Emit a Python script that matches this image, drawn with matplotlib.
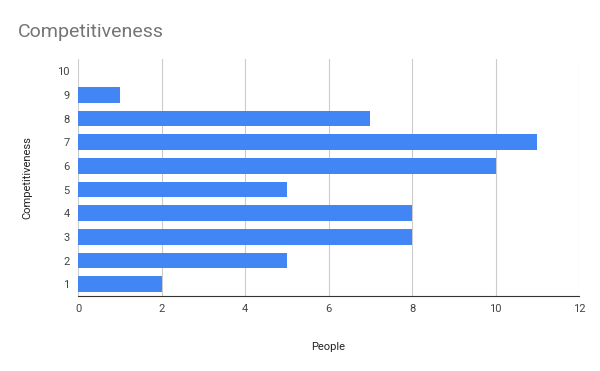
import matplotlib
matplotlib.use("Agg")
import matplotlib.pyplot as plt

plt.rcParams['font.family'] = ['Roboto', 'DejaVu Sans']

levels = [1, 2, 3, 4, 5, 6, 7, 8, 9, 10]
people = [2, 5, 8, 8, 5, 10, 11, 7, 1, 0]
xticks = [0, 2, 4, 6, 8, 10, 12]

fig = plt.figure(figsize=(6, 3.71), dpi=100)
ax = fig.add_axes([0.13, 0.202, 0.835, 0.638])

ax.barh(levels, people, height=0.66, color='#4285F4', zorder=3)

ax.set_xlim(0, 12)
ax.set_ylim(0.5, 10.5)
ax.set_xticks(xticks)
ax.set_yticks(levels)
ax.grid(axis='x', color='#cccccc', linewidth=0.8, zorder=0)
for s in ['top', 'right', 'left']:
    ax.spines[s].set_visible(False)
ax.spines['bottom'].set_color('#333333')
ax.spines['bottom'].set_linewidth(0.8)
ax.tick_params(axis='both', length=0, labelsize=8, colors='#444444', pad=6)

ax.set_xlabel('People', fontsize=8, color='#222222', labelpad=20)
ax.set_ylabel('Competitiveness', fontsize=8, color='#222222', labelpad=18)

fig.text(0.03, 0.915, 'Competitiveness', fontsize=14, color='#757575', va='center')

fig.savefig('out.png', dpi=100)
